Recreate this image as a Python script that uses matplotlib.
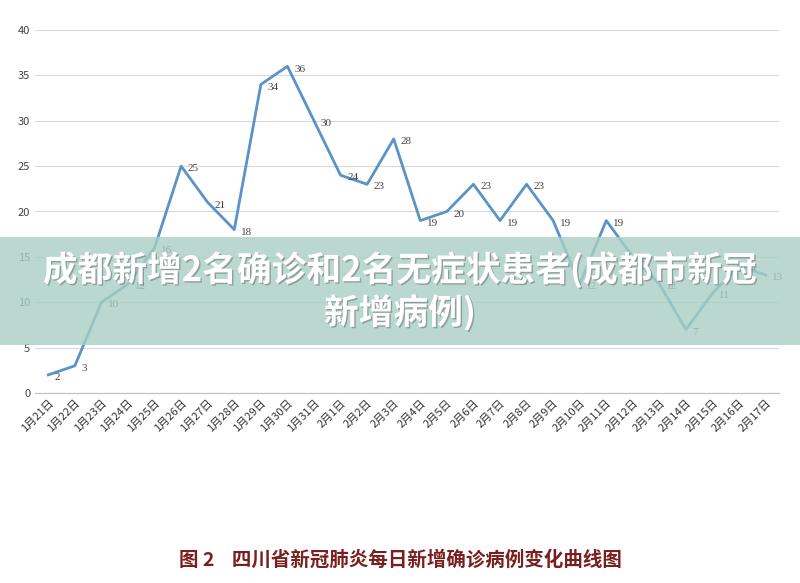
import matplotlib
matplotlib.use("Agg")
import matplotlib.pyplot as plt
import matplotlib.patheffects as pe
from matplotlib.patches import Rectangle

dates = ["1月21日","1月22日","1月23日","1月24日","1月25日","1月26日","1月27日","1月28日","1月29日","1月30日","1月31日",
         "2月1日","2月2日","2月3日","2月4日","2月5日","2月6日","2月7日","2月8日","2月9日","2月10日","2月11日","2月12日",
         "2月13日","2月14日","2月15日","2月16日","2月17日"]
values = [2,3,10,12,16,25,21,18,34,36,30,24,23,28,19,20,23,19,23,19,12,19,15,12,7,11,14,13]

plt.rcParams['font.family'] = ['Noto Sans CJK SC', 'DejaVu Sans']
fig = plt.figure(figsize=(8, 5.83), dpi=100)
ax = fig.add_axes([35/800, (583-393)/583, (779-35)/800, (393-30)/583])
x = list(range(len(values)))
ax.plot(x, values, color='#5b93c7', lw=2)
for i, v in zip(x, values):
    ax.text(i + 0.25, v - 0.3, str(v), fontsize=8, color='#444444', family=['Liberation Serif'], va='center')
ax.set_xlim(-0.5, len(values) - 0.5)
ax.set_ylim(0, 40)
ax.set_yticks(range(0, 41, 5))
ax.set_xticks(x)
ax.set_xticklabels(dates, rotation=45, ha='right', rotation_mode='anchor', fontsize=8)
ax.tick_params(axis='y', labelsize=8, length=0, colors='#444444')
ax.tick_params(axis='x', length=0, colors='#333333')
ax.grid(axis='y', color='#d9d9d9', lw=0.8)
ax.set_axisbelow(True)
for s in ['top', 'right', 'left']:
    ax.spines[s].set_visible(False)
ax.spines['bottom'].set_color('#bfbfbf')

fig.patches.append(Rectangle((0, (583-345)/583), 1, 108/583, transform=fig.transFigure,
                             facecolor='#a9cfc3', alpha=0.8, zorder=5))
t = fig.text(0.5, (583-291)/583, "成都新增2名确诊和2名无症状患者(成都市新冠\n新增病例)", ha='center', va='center',
             fontsize=25, fontweight='bold', color='white', linespacing=1.2, zorder=6)
t.set_path_effects([pe.withSimplePatchShadow(offset=(1, -1), alpha=0.4)])
fig.text(0.5, (583-560)/583, "图 2    四川省新冠肺炎每日新增确诊病例变化曲线图", ha='center', va='center',
         fontsize=14, fontweight='bold', color='#7a1f1f')
fig.savefig("out.png", dpi=100)
